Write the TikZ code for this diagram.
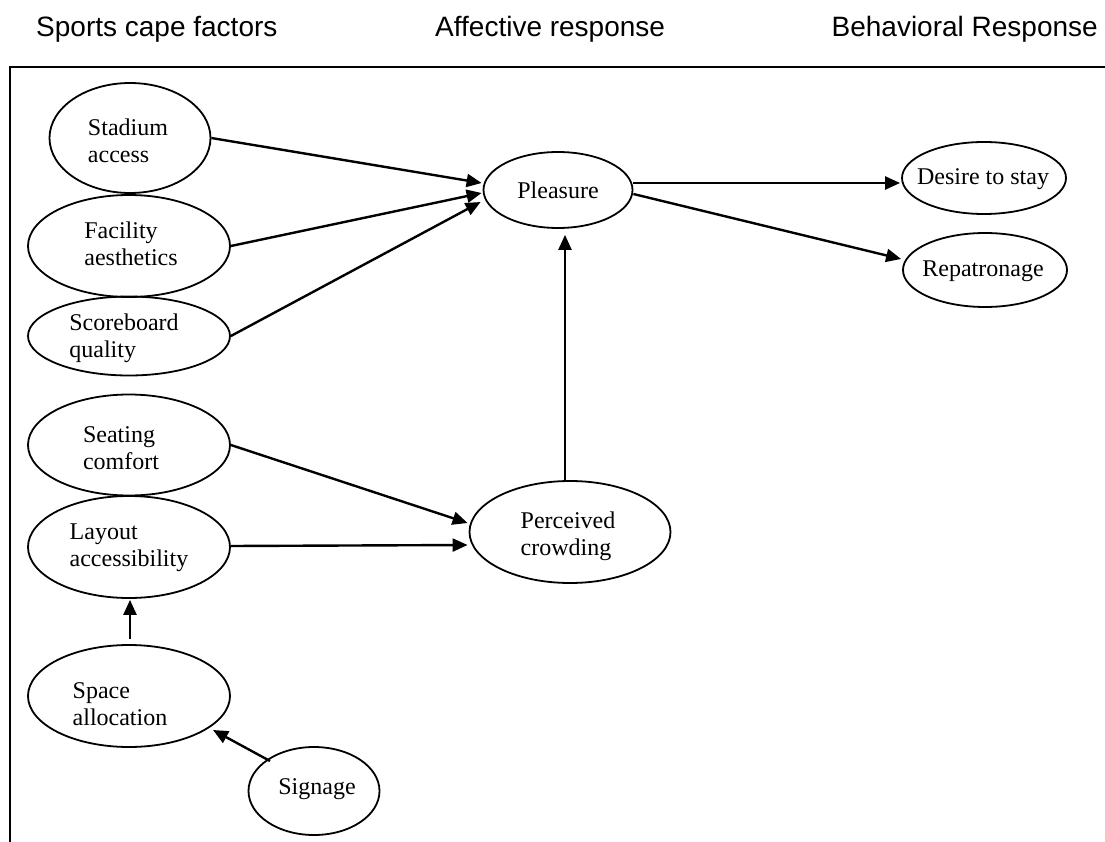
\documentclass[tikz,border=0pt]{standalone}
\usepackage{fontspec}
\setmainfont{Liberation Serif}
\newfontfamily\hdrfont{Liberation Sans}
\usetikzlibrary{shapes.geometric,arrows.meta,calc}
\begin{document}
\begin{tikzpicture}[x=1pt,y=-1pt,
  ell/.style={draw,ellipse,line width=1.8pt,inner sep=0pt},
  txt/.style={font=\fontsize{24}{27}\selectfont,align=left,inner sep=0pt},
  hdr/.style={font=\hdrfont\fontsize{28}{32}\selectfont,inner sep=0pt},
  arr/.style={line width=2.4pt,-{Triangle[length=15pt,width=13pt]}},
  frameline/.style={line width=2.4pt}]
\useasboundingbox (0,0) rectangle (1105,842);

% headers
\node[hdr,anchor=base west] (h1) at (36,37) {Sports cape factors};
\node[hdr,anchor=base west] (h2) at (435,37) {Affective response};
\node[hdr,anchor=base east] (h3) at (1098,37) {Behavioral Response};

% frame
\coordinate (fbl) at (10,842);
\coordinate (ftl) at (10,67);
\coordinate (ftr) at (1105,67);
\draw[frameline] (fbl) -- (ftl) -- (ftr);

% ellipses
\node[ell,minimum width=161pt,minimum height=110pt] (sa) at (130,138) {};
\node[ell,minimum width=202pt,minimum height=102pt] (fa) at (129,246) {};
\node[ell,minimum width=202pt,minimum height=79pt]  (sb) at (129,336) {};
\node[ell,minimum width=202pt,minimum height=101pt] (sc) at (129,445) {};
\node[ell,minimum width=202pt,minimum height=102pt] (la) at (129,547) {};
\node[ell,minimum width=202pt,minimum height=102pt] (sp) at (129,696) {};
\node[ell,minimum width=131pt,minimum height=88pt]  (sg) at (314,791) {};
\node[ell,minimum width=149pt,minimum height=76pt]  (pl) at (558,190) {};
\node[ell,minimum width=164pt,minimum height=72pt]  (de) at (984,178) {};
\node[ell,minimum width=164pt,minimum height=74pt]  (rp) at (985,270) {};
\node[ell,minimum width=201pt,minimum height=102pt] (pc) at (570,532) {};

% texts
\node[txt] (tsa) at (128,141) {Stadium\\access};
\node[txt] (tfa) at (131,244) {Facility\\aesthetics};
\node[txt] (tsb) at (124,338) {Scoreboard\\quality};
\node[txt] (tsc) at (121,448) {Seating\\comfort};
\node[txt] (tla) at (129,548) {Layout\\accessibility};
\node[txt] (tsp) at (120,704) {Space\\allocation};
\node[txt] (tsg) at (317,789) {Signage};
\node[txt] (tpl) at (558,190) {Pleasure};
\node[txt] (tde) at (983,179) {Desire to stay};
\node[txt] (trp) at (983,271) {Repatronage};
\node[txt] (tpc) at (568,536) {Perceived\\crowding};

% connectors
\draw[arr] (sa.east) -- ($(pl.west)+(-1,-7)$);
\draw[arr] (fa.east) -- ($(pl.west)+(-1,3)$);
\draw[arr] (sb.east) -- ($(pl.west)+(-2,12)$);
\draw[arr] ($(pl.east)+(0,-7)$) -- ($(de.west)+(-1,5)$);
\draw[arr] ($(pl.east)+(0,4)$) -- ($(rp.west)+(-1,-11)$);
\draw[arr] ($(pc.north)+(-5,0)$) -- ($(pl.south)+(7,6)$);
\draw[arr] (sc.east) -- ($(pc.west)+(-1,-9)$);
\draw[arr] ($(la.east)+(0,-1)$) -- ($(pc.west)+(-1,13)$);
\draw[arr] ($(sp.north)+(1,-5)$) -- ($(la.south)+(1,1)$);
\draw[arr] ($(sg.center)+(-44,-30)$) -- ($(sp.center)+(84,34)$);
\end{tikzpicture}
\end{document}
